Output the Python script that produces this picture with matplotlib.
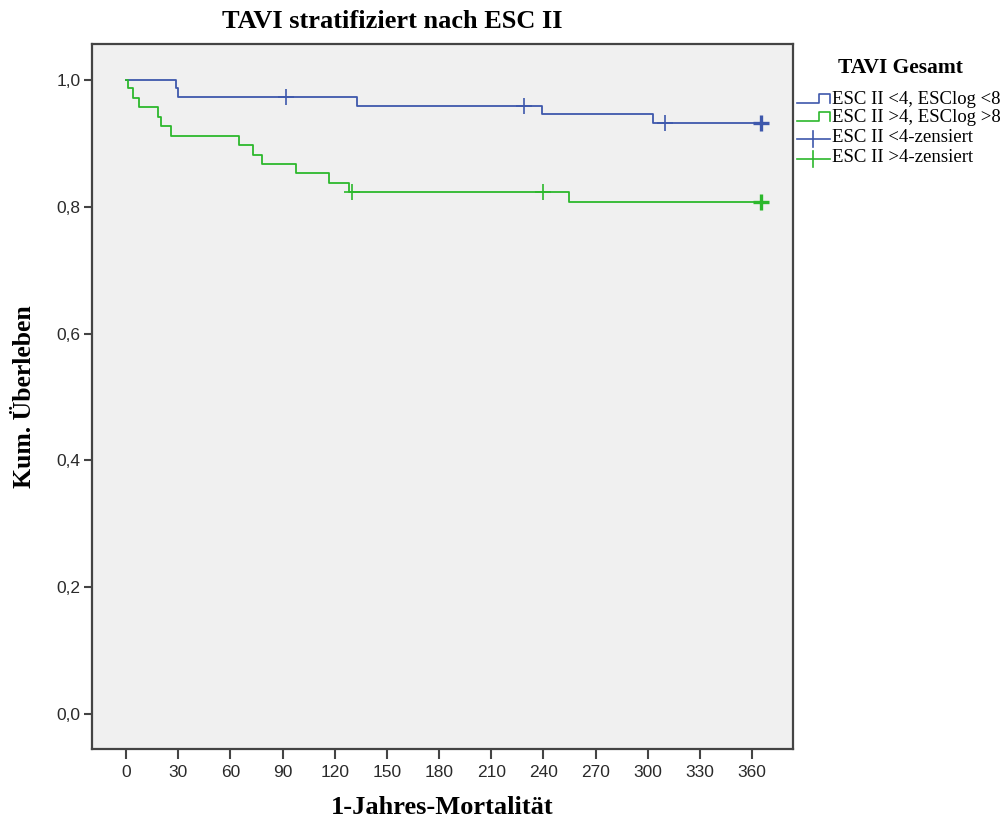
import numpy as np
import matplotlib
matplotlib.use("Agg")
import matplotlib.pyplot as plt

# Kaplan-Meier Stufen (Tage, kum. Ueberleben)
blue_t = [0, 29, 30, 133, 239, 303, 366]
blue_s = [1.0, 0.987, 0.973, 0.959, 0.946, 0.932, 0.932]
blue_cens = [92, 229, 310, 365]

green_t = [0, 1, 4, 7.5, 18.5, 20, 26, 65, 73, 78, 98, 117, 128, 255, 366]
green_s = [1.0, 0.987, 0.971, 0.957, 0.941, 0.927, 0.912, 0.897, 0.882,
           0.868, 0.854, 0.838, 0.824, 0.808, 0.808]
green_cens = [130, 240, 365]

labels = ["ESC II <4, ESClog <8", "ESC II >4, ESClog >8",
          "ESC II <4-zensiert", "ESC II >4-zensiert"]
xticks = list(range(0, 361, 30))
yticks = [0.0, 0.2, 0.4, 0.6, 0.8, 1.0]

BLUE = "#3e58ac"
GREEN = "#2cb82c"
serif = "Liberation Serif"
sans = "Liberation Sans"


def surv_at(t, times, surv):
    i = np.searchsorted(times, t, side="right") - 1
    return surv[i]


fig = plt.figure(figsize=(10.08, 8.25), dpi=100)
ax = fig.add_axes([0.091, 0.0918, 0.696, 0.8545])
ax.set_facecolor("#f0f0f0")

ax.plot(blue_t, blue_s, drawstyle="steps-post", color=BLUE, lw=1.3)
ax.plot(green_t, green_s, drawstyle="steps-post", color=GREEN, lw=1.3)

for cens, times, surv, col in [(blue_cens, blue_t, blue_s, BLUE),
                               (green_cens, green_t, green_s, GREEN)]:
    ys = [surv_at(c, times, surv) for c in cens]
    ax.plot(cens[:-1], ys[:-1], ls="none", marker="+", ms=11, mew=1.2, color=col)
    ax.plot(cens[-1:], ys[-1:], ls="none", marker="+", ms=12, mew=2.4, color=col)

ax.set_xlim(-19.7, 383.7)
ax.set_ylim(-0.0557, 1.0563)
ax.set_xticks(xticks)
ax.set_xticklabels([str(x) for x in xticks], fontfamily=sans, fontsize=12.5, color="#2a2a2a")
ax.set_yticks(yticks)
ax.set_yticklabels([f"{y:.1f}".replace(".", ",") for y in yticks],
                   fontfamily=sans, fontsize=12.5, color="#2a2a2a")
ax.tick_params(axis="x", length=7, width=1.5, color="#444444", pad=4)
ax.tick_params(axis="y", length=6, width=1.5, color="#444444", pad=2)
for sp in ax.spines.values():
    sp.set_color("#444444")
    sp.set_linewidth(1.6)

fig.text(392 / 1008, 1 - 22 / 825, "TAVI stratifiziert nach ESC II", ha="center", va="center",
         fontfamily=serif, fontweight="bold", fontsize=19)
fig.text(442.5 / 1008, 1 - 807 / 825, "1-Jahres-Mortalität", ha="center", va="center",
         fontfamily=serif, fontweight="bold", fontsize=19)
fig.text(25 / 1008, 1 - 397 / 825, "Kum. Überleben", ha="center", va="center", rotation=90,
         fontfamily=serif, fontweight="bold", fontsize=18.5)

# Legende (in Pixelkoordinaten)
lax = fig.add_axes([0, 0, 1, 1])
lax.set_xlim(0, 1008)
lax.set_ylim(825, 0)
lax.axis("off")
lax.text(900, 68, "TAVI Gesamt", ha="center", va="center",
         fontfamily=serif, fontweight="bold", fontsize=15.5)
rows = [100, 118, 138, 158]
cols = [BLUE, GREEN, BLUE, GREEN]
for i, (y, col, lab) in enumerate(zip(rows, cols, labels)):
    if i < 2:
        lax.plot([797, 819, 819, 830, 830], [y + 3, y + 3, y - 6, y - 6, y + 3], color=col, lw=1.2)
    else:
        lax.plot([797, 830], [y + 1, y + 1], color=col, lw=1.2)
        lax.plot([813, 813], [y - 7, y + 9], color=col, lw=1.2)
    lax.text(832, y, lab, ha="left", va="center", fontfamily=serif, fontsize=13.5)

fig.savefig("out.png", dpi=100)
